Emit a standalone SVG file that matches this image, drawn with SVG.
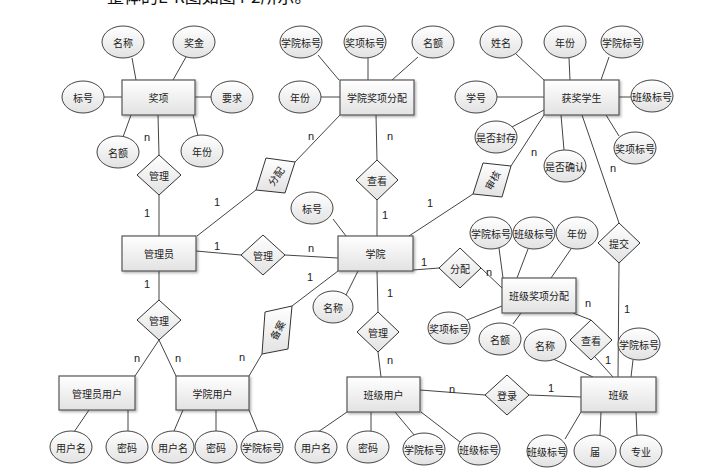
<svg xmlns="http://www.w3.org/2000/svg" width="713" height="476" viewBox="0 0 713 476">
<defs>
<linearGradient id="g" x1="0" y1="0" x2="0" y2="1">
<stop offset="0" stop-color="#ffffff"/>
<stop offset="1" stop-color="#e2e2e2"/>
</linearGradient>
<filter id="sh" x="-20%" y="-20%" width="150%" height="160%">
<feDropShadow dx="1.5" dy="1.5" stdDeviation="1" flood-color="#000" flood-opacity="0.3"/>
</filter>
</defs>
<style>
.ent{fill:url(#g);stroke:#555;stroke-width:1.2;filter:url(#sh)}
.rel{fill:url(#g);stroke:#333;stroke-width:1}
.att{fill:url(#g);stroke:#444;stroke-width:1}
.t{font-family:"Noto Sans CJK SC","Noto Sans",sans-serif;font-size:10px;fill:#222;text-anchor:middle;dominant-baseline:central}
.c{font-family:"Liberation Sans",Arial,sans-serif;font-size:11px;fill:#222;text-anchor:middle;dominant-baseline:central}
#connectors line{stroke:#444;stroke-width:1}
</style>
<rect width="713" height="476" fill="#fff"/>
<text x="107" y="3" style="font-family:'Noto Sans CJK SC',sans-serif;font-size:17px;fill:#111">整体的E-R图如图4-2所示。</text>

<g id="connectors">
<line x1="132" y1="58" x2="136" y2="80"/>
<line x1="186" y1="57" x2="173" y2="80"/>
<line x1="104" y1="97" x2="122" y2="97"/>
<line x1="195" y1="97" x2="211" y2="97"/>
<line x1="123" y1="137" x2="131" y2="115"/>
<line x1="198" y1="136" x2="193" y2="115"/>
<line x1="158" y1="115" x2="159" y2="155"/>
<line x1="159" y1="195" x2="159" y2="236"/>
<line x1="197" y1="236" x2="256" y2="190"/>
<line x1="295" y1="162" x2="340" y2="115"/>
<line x1="318" y1="55" x2="339" y2="80"/>
<line x1="368" y1="58" x2="368" y2="80"/>
<line x1="418" y1="57" x2="392" y2="80"/>
<line x1="321" y1="97" x2="340" y2="97"/>
<line x1="376" y1="115" x2="377" y2="160"/>
<line x1="377" y1="200" x2="377" y2="236"/>
<line x1="196" y1="251" x2="241" y2="255"/>
<line x1="285" y1="255" x2="338" y2="258"/>
<line x1="333" y1="219" x2="346" y2="236"/>
<line x1="346" y1="295" x2="358" y2="271"/>
<line x1="409" y1="236" x2="473" y2="194"/>
<line x1="511" y1="166" x2="544" y2="115"/>
<line x1="516" y1="54" x2="544" y2="80"/>
<line x1="569" y1="58" x2="570" y2="80"/>
<line x1="609" y1="57" x2="601" y2="80"/>
<line x1="631" y1="97" x2="619" y2="97"/>
<line x1="497" y1="97" x2="544" y2="97"/>
<line x1="512" y1="127" x2="544" y2="110"/>
<line x1="619" y1="136" x2="606" y2="115"/>
<line x1="564" y1="150" x2="561" y2="115"/>
<line x1="582" y1="115" x2="619" y2="223"/>
<line x1="619" y1="263" x2="618" y2="377"/>
<line x1="413" y1="270" x2="439" y2="268"/>
<line x1="481" y1="268" x2="502" y2="288"/>
<line x1="499" y1="248" x2="503" y2="278"/>
<line x1="528" y1="249" x2="517" y2="278"/>
<line x1="571" y1="249" x2="551" y2="278"/>
<line x1="502" y1="306" x2="467" y2="320"/>
<line x1="521" y1="313" x2="513" y2="324"/>
<line x1="573" y1="313" x2="591" y2="320"/>
<line x1="595" y1="357" x2="613" y2="377"/>
<line x1="553" y1="359" x2="593" y2="377"/>
<line x1="633" y1="360" x2="631" y2="377"/>
<line x1="581" y1="412" x2="565" y2="439"/>
<line x1="601" y1="412" x2="600" y2="435"/>
<line x1="636" y1="412" x2="637" y2="435"/>
<line x1="529" y1="395" x2="581" y2="397"/>
<line x1="420" y1="390" x2="485" y2="395"/>
<line x1="377" y1="271" x2="378" y2="312"/>
<line x1="378" y1="352" x2="381" y2="377"/>
<line x1="347" y1="412" x2="318" y2="432"/>
<line x1="371" y1="412" x2="371" y2="431"/>
<line x1="395" y1="412" x2="415" y2="436"/>
<line x1="421" y1="412" x2="460" y2="442"/>
<line x1="338" y1="271" x2="292" y2="306"/>
<line x1="262" y1="354" x2="249" y2="376"/>
<line x1="159" y1="271" x2="159" y2="300"/>
<line x1="159" y1="340" x2="135" y2="376"/>
<line x1="159" y1="340" x2="176" y2="376"/>
<line x1="89" y1="410" x2="74" y2="432"/>
<line x1="128" y1="410" x2="128" y2="431"/>
<line x1="183" y1="410" x2="174" y2="431"/>
<line x1="216" y1="410" x2="216" y2="431"/>
<line x1="249" y1="410" x2="258" y2="432"/>
</g>

<g id="cardinalities">
<text class="c" x="147" y="137">n</text>
<text class="c" x="147" y="213">1</text>
<text class="c" x="217" y="202">1</text>
<text class="c" x="217" y="246">1</text>
<text class="c" x="147" y="284">1</text>
<text class="c" x="137" y="358">n</text>
<text class="c" x="178" y="358">n</text>
<text class="c" x="311" y="136">n</text>
<text class="c" x="390" y="136">n</text>
<text class="c" x="385" y="215">1</text>
<text class="c" x="430" y="203">1</text>
<text class="c" x="311" y="248">n</text>
<text class="c" x="310" y="277">1</text>
<text class="c" x="390" y="293">1</text>
<text class="c" x="424" y="262">1</text>
<text class="c" x="534" y="152">n</text>
<text class="c" x="613" y="168">n</text>
<text class="c" x="489" y="272">n</text>
<text class="c" x="588" y="303">n</text>
<text class="c" x="627" y="309">1</text>
<text class="c" x="608" y="360">1</text>
<text class="c" x="390" y="360">n</text>
<text class="c" x="242" y="357">n</text>
<text class="c" x="452" y="389">n</text>
<text class="c" x="551" y="388">1</text>
</g>

<!-- entities -->
<g id="e_jiangxiang"><rect class="ent" x="122" y="80" width="73" height="35"/><text class="t" x="158.5" y="97.5">奖项</text></g>
<g id="e_xyjxfp"><rect class="ent" x="340" y="80" width="74" height="35"/><text class="t" x="377" y="97.5">学院奖项分配</text></g>
<g id="e_hjxs"><rect class="ent" x="544" y="80" width="75" height="35"/><text class="t" x="581.5" y="97.5">获奖学生</text></g>
<g id="e_gly"><rect class="ent" x="122" y="236" width="74" height="35"/><text class="t" x="159" y="253.5">管理员</text></g>
<g id="e_xy"><rect class="ent" x="338" y="236" width="75" height="35"/><text class="t" x="375.5" y="253.5">学院</text></g>
<g id="e_bjjxfp"><rect class="ent" x="502" y="278" width="74" height="35"/><text class="t" x="539" y="295.5">班级奖项分配</text></g>
<g id="e_glyyh"><rect class="ent" x="59" y="376" width="76" height="34"/><text class="t" x="97" y="393">管理员用户</text></g>
<g id="e_xyyh"><rect class="ent" x="176" y="376" width="73" height="34"/><text class="t" x="212.5" y="393">学院用户</text></g>
<g id="e_bjyh"><rect class="ent" x="347" y="377" width="73" height="35"/><text class="t" x="383.5" y="394.5">班级用户</text></g>
<g id="e_bj"><rect class="ent" x="581" y="377" width="75" height="35"/><text class="t" x="618.5" y="394.5">班级</text></g>

<!-- relationships -->
<g id="r_gl1"><polygon class="rel" points="159,155 181,175 159,195 137,175"/><text class="t" x="159" y="175">管理</text></g>
<g id="r_ck1"><polygon class="rel" points="377,160 398,180 377,200 356,180"/><text class="t" x="377" y="180">查看</text></g>
<g id="r_gl2"><polygon class="rel" points="263,235 285,255 263,275 241,255"/><text class="t" x="263" y="255">管理</text></g>
<g id="r_fp2"><polygon class="rel" points="460,248 481,268 460,288 439,268"/><text class="t" x="460" y="268">分配</text></g>
<g id="r_gl3"><polygon class="rel" points="159,300 181,320 159,340 137,320"/><text class="t" x="159" y="320">管理</text></g>
<g id="r_gl4"><polygon class="rel" points="378,312 399,332 378,352 357,332"/><text class="t" x="378" y="332">管理</text></g>
<g id="r_tj"><polygon class="rel" points="619,223 640,243 619,263 598,243"/><text class="t" x="619" y="243">提交</text></g>
<g id="r_ck2"><polygon class="rel" points="591,320 612,340 591,360 570,340"/><text class="t" x="591" y="340">查看</text></g>
<g id="r_dl"><polygon class="rel" points="507,375 529,395 507,415 485,395"/><text class="t" x="507" y="395">登录</text></g>
<g id="r_fp1"><polygon class="rel" points="266,158 295,162 285,193 256,190"/><text class="t" x="275.5" y="176" transform="rotate(-55 275.5 176)">分配</text></g>
<g id="r_sh"><polygon class="rel" points="483,163 511,166 502,197 473,194"/><text class="t" x="492" y="180" transform="rotate(-60 492 180)">审核</text></g>
<g id="r_ba"><polygon class="rel" points="265,312 292,306 288,349 262,354"/><text class="t" x="277" y="330" transform="rotate(-62 277 330)">备案</text></g>

<!-- attributes -->
<g id="a_jx_mc"><ellipse class="att" cx="123" cy="42" rx="21" ry="16"/><text class="t" x="123" y="42">名称</text></g>
<g id="a_jx_jj"><ellipse class="att" cx="194" cy="42" rx="21" ry="16"/><text class="t" x="194" y="42">奖金</text></g>
<g id="a_jx_bh"><ellipse class="att" cx="83" cy="97" rx="21" ry="16"/><text class="t" x="83" y="97">标号</text></g>
<g id="a_jx_yq"><ellipse class="att" cx="232" cy="97" rx="21" ry="16"/><text class="t" x="232" y="97">要求</text></g>
<g id="a_jx_me"><ellipse class="att" cx="118" cy="152" rx="21" ry="16"/><text class="t" x="118" y="152">名额</text></g>
<g id="a_jx_nf"><ellipse class="att" cx="202" cy="151" rx="21" ry="16"/><text class="t" x="202" y="151">年份</text></g>

<g id="a_xf_xybh"><ellipse class="att" cx="301" cy="42" rx="21" ry="16"/><text class="t" x="301" y="42">学院标号</text></g>
<g id="a_xf_jxbh"><ellipse class="att" cx="365" cy="42" rx="21" ry="16"/><text class="t" x="365" y="42">奖项标号</text></g>
<g id="a_xf_me"><ellipse class="att" cx="433" cy="42" rx="21" ry="16"/><text class="t" x="433" y="42">名额</text></g>
<g id="a_xf_nf"><ellipse class="att" cx="300" cy="97" rx="21" ry="16"/><text class="t" x="300" y="97">年份</text></g>

<g id="a_hj_xm"><ellipse class="att" cx="501" cy="42" rx="21" ry="16"/><text class="t" x="501" y="42">姓名</text></g>
<g id="a_hj_nf"><ellipse class="att" cx="565" cy="42" rx="21" ry="16"/><text class="t" x="565" y="42">年份</text></g>
<g id="a_hj_xybh"><ellipse class="att" cx="622" cy="42" rx="21" ry="16"/><text class="t" x="622" y="42">学院标号</text></g>
<g id="a_hj_xh"><ellipse class="att" cx="476" cy="97" rx="21" ry="16"/><text class="t" x="476" y="97">学号</text></g>
<g id="a_hj_bjbh"><ellipse class="att" cx="652" cy="96" rx="21" ry="16"/><text class="t" x="652" y="96">班级标号</text></g>
<g id="a_hj_sffc"><ellipse class="att" cx="496" cy="137" rx="21" ry="16"/><text class="t" x="496" y="137">是否封存</text></g>
<g id="a_hj_jxbh"><ellipse class="att" cx="635" cy="148" rx="21" ry="16"/><text class="t" x="635" y="148">奖项标号</text></g>
<g id="a_hj_sfqr"><ellipse class="att" cx="565" cy="166" rx="21" ry="16"/><text class="t" x="565" y="166">是否确认</text></g>

<g id="a_xy_bh"><ellipse class="att" cx="312" cy="208" rx="21" ry="16"/><text class="t" x="312" y="208">标号</text></g>
<g id="a_xy_mc"><ellipse class="att" cx="333" cy="307" rx="20" ry="16"/><text class="t" x="333" y="307">名称</text></g>

<g id="a_bf_xybh"><ellipse class="att" cx="491" cy="233" rx="21" ry="16"/><text class="t" x="491" y="233">学院标号</text></g>
<g id="a_bf_bjbh"><ellipse class="att" cx="534" cy="233" rx="21" ry="16"/><text class="t" x="534" y="233">班级标号</text></g>
<g id="a_bf_nf"><ellipse class="att" cx="577" cy="233" rx="21" ry="16"/><text class="t" x="577" y="233">年份</text></g>
<g id="a_bf_jxbh"><ellipse class="att" cx="449" cy="328" rx="21" ry="16"/><text class="t" x="449" y="328">奖项标号</text></g>
<g id="a_bf_me"><ellipse class="att" cx="500" cy="339" rx="21" ry="16"/><text class="t" x="500" y="339">名额</text></g>

<g id="a_bj_mc"><ellipse class="att" cx="545" cy="345" rx="21" ry="16"/><text class="t" x="545" y="345">名称</text></g>
<g id="a_bj_xybh"><ellipse class="att" cx="639" cy="344" rx="21" ry="16"/><text class="t" x="639" y="344">学院标号</text></g>
<g id="a_bj_bjbh"><ellipse class="att" cx="547" cy="451" rx="20" ry="16"/><text class="t" x="547" y="451">班级标号</text></g>
<g id="a_bj_j"><ellipse class="att" cx="595" cy="451" rx="21" ry="16"/><text class="t" x="595" y="451">届</text></g>
<g id="a_bj_zy"><ellipse class="att" cx="641" cy="451" rx="21" ry="16"/><text class="t" x="641" y="451">专业</text></g>

<g id="a_gu_yhm"><ellipse class="att" cx="71" cy="447" rx="21" ry="16"/><text class="t" x="71" y="447">用户名</text></g>
<g id="a_gu_mm"><ellipse class="att" cx="127" cy="447" rx="21" ry="16"/><text class="t" x="127" y="447">密码</text></g>

<g id="a_xu_yhm"><ellipse class="att" cx="173" cy="447" rx="21" ry="16"/><text class="t" x="173" y="447">用户名</text></g>
<g id="a_xu_mm"><ellipse class="att" cx="216" cy="447" rx="21" ry="16"/><text class="t" x="216" y="447">密码</text></g>
<g id="a_xu_xybh"><ellipse class="att" cx="262" cy="447" rx="21" ry="16"/><text class="t" x="262" y="447">学院标号</text></g>

<g id="a_bu_yhm"><ellipse class="att" cx="316" cy="447" rx="21" ry="16"/><text class="t" x="316" y="447">用户名</text></g>
<g id="a_bu_mm"><ellipse class="att" cx="368" cy="447" rx="21" ry="16"/><text class="t" x="368" y="447">密码</text></g>
<g id="a_bu_xybh"><ellipse class="att" cx="424" cy="449" rx="21" ry="16"/><text class="t" x="424" y="449">学院标号</text></g>
<g id="a_bu_bjbh"><ellipse class="att" cx="479" cy="449" rx="21" ry="16"/><text class="t" x="479" y="449">班级标号</text></g>
</svg>
